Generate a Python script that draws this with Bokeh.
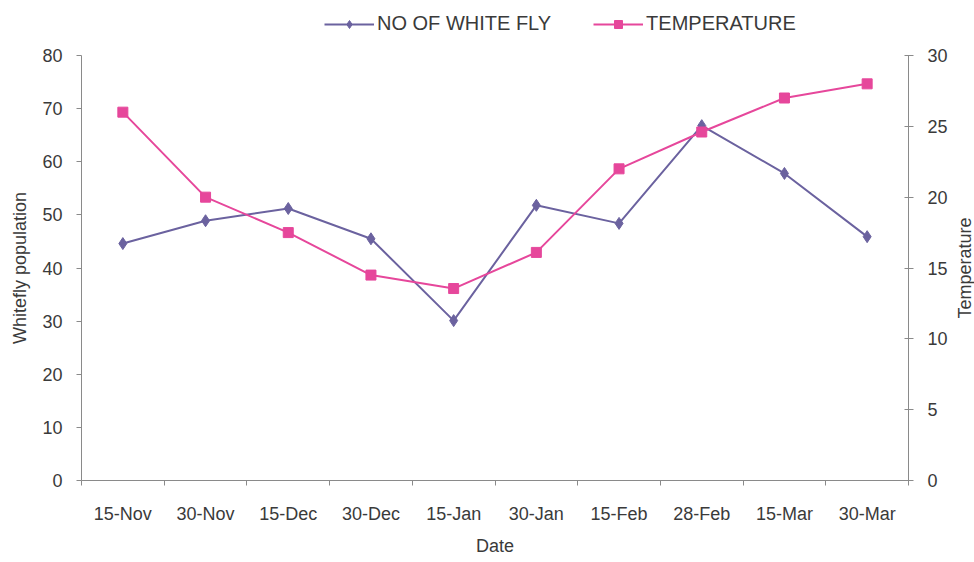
import math
from bokeh.plotting import figure
from bokeh.models import Range1d, LinearAxis, FixedTicker, Legend, LegendItem
from bokeh.layouts import column, row
from bokeh.core.properties import value
from bokeh.embed import file_html
from bokeh.resources import INLINE

dates = ["15-Nov", "30-Nov", "15-Dec", "30-Dec", "15-Jan", "30-Jan", "15-Feb", "28-Feb", "15-Mar", "30-Mar"]
whitefly = [44.6, 48.9, 51.2, 45.5, 30.1, 51.8, 48.4, 66.8, 57.8, 45.9]
temperature = [26.0, 20.0, 17.5, 14.5, 13.55, 16.1, 22.0, 24.6, 27.0, 28.0]
left_ticks = [0, 10, 20, 30, 40, 50, 60, 70, 80]
right_ticks = [0, 5, 10, 15, 20, 25, 30]
series_names = ["NO OF WHITE FLY", "TEMPERATURE"]
x_title = "Date"
left_title = "Whitefly population"
right_title = "Temperature"

xs = [i + 0.5 for i in range(len(dates))]
FONT = "Liberation Sans"
TXT = "#3a3a3a"
AX = "#8a8a8a"
WF_C = "#6b629f"
T_C = "#e6479b"
FS = "18px"


def bare(fig):
    fig.axis.visible = False
    fig.grid.visible = False
    fig.outline_line_color = None
    fig.background_fill_color = "white"
    fig.border_fill_color = "white"


# ---------- main chart ----------
yr = Range1d(0, 80)
p = figure(width=952, height=522, output_backend="svg", toolbar_location=None,
           x_range=Range1d(0, len(dates)), y_range=yr,
           min_border_left=81, min_border_right=44, min_border_top=15, min_border_bottom=82)
p.extra_y_ranges = {"temp": Range1d(0, 30)}
p.grid.visible = False
p.outline_line_color = None
p.background_fill_color = "white"
p.border_fill_color = "white"

xa = p.xaxis[0]
xa.ticker = FixedTicker(ticks=xs, minor_ticks=list(range(len(dates) + 1)))
xa.major_label_overrides = {x: d for x, d in zip(xs, dates)}
xa.major_tick_out = 0
xa.major_tick_in = 0
xa.minor_tick_out = 5
xa.minor_tick_in = 0
xa.minor_tick_line_color = AX
xa.axis_line_color = AX
xa.major_label_text_font = FONT
xa.major_label_text_font_size = FS
xa.major_label_text_color = TXT
xa.major_label_standoff = 18
xa.axis_label = x_title
xa.axis_label_text_font = FONT
xa.axis_label_text_font_size = FS
xa.axis_label_text_font_style = "normal"
xa.axis_label_text_color = TXT
xa.axis_label_standoff = 9

ya = p.yaxis[0]
ya.ticker = FixedTicker(ticks=left_ticks)
ya.minor_tick_line_color = None
ya.major_tick_out = 5
ya.major_tick_in = 0
ya.major_tick_line_color = AX
ya.axis_line_color = AX
ya.major_label_text_font = FONT
ya.major_label_text_font_size = FS
ya.major_label_text_color = TXT
ya.major_label_standoff = 14
ya.axis_label = left_title
ya.axis_label_text_font = FONT
ya.axis_label_text_font_size = FS
ya.axis_label_text_font_style = "normal"
ya.axis_label_text_color = TXT
ya.axis_label_standoff = 9

ra = LinearAxis(y_range_name="temp", ticker=FixedTicker(ticks=right_ticks))
ra.minor_tick_line_color = None
ra.major_tick_out = 5
ra.major_tick_in = 4
ra.major_tick_line_color = AX
ra.axis_line_color = AX
ra.major_label_text_font = FONT
ra.major_label_text_font_size = FS
ra.major_label_text_color = TXT
ra.major_label_standoff = 14
p.add_layout(ra, "right")

p.line(xs, whitefly, line_color=WF_C, line_width=2)
p.scatter(xs, whitefly, marker="diamond", size=12, fill_color=WF_C, line_color=WF_C)
p.line(xs, temperature, line_color=T_C, line_width=2, y_range_name="temp")
p.scatter(xs, temperature, marker="square", size=10, fill_color=T_C, line_color=T_C, y_range_name="temp")

# ---------- right axis title strip ----------
lab = figure(width=22, height=522, output_backend="svg", toolbar_location=None,
             x_range=Range1d(0, 1), y_range=yr,
             min_border_left=0, min_border_right=0, min_border_top=15, min_border_bottom=82)
bare(lab)
lab.text(x=[0.55], y=[(yr.start + yr.end) / 2], text=[right_title], angle=math.pi / 2,
         text_align="center", text_baseline="middle", text_font_size=FS,
         text_font=value(FONT), text_color=TXT)

# ---------- legend strip (same series, drawn outside its view so only the legend shows) ----------
top = figure(width=974, height=40, output_backend="svg", toolbar_location=None,
             x_range=Range1d(0, len(dates)), y_range=Range1d(1000, 1001),
             min_border_left=0, min_border_right=0, min_border_top=0, min_border_bottom=0)
bare(top)
lw = top.line(xs, whitefly, line_color=WF_C, line_width=2)
mw = top.scatter(xs, whitefly, marker="diamond", size=11, fill_color=WF_C, line_color=WF_C)
lt = top.line(xs, temperature, line_color=T_C, line_width=2)
mt = top.scatter(xs, temperature, marker="square", size=10, fill_color=T_C, line_color=T_C)
legend = Legend(items=[LegendItem(label=series_names[0], renderers=[lw, mw]),
                       LegendItem(label=series_names[1], renderers=[lt, mt])],
                orientation="horizontal", location=(324, 5),
                label_text_font=FONT, label_text_font_size="20px", label_text_color=TXT,
                glyph_width=50, label_standoff=3, spacing=42, border_line_color=None,
                background_fill_alpha=0, margin=0, padding=4)
top.add_layout(legend, "center")

layout = column(top, row(p, lab))
open("out.html", "w").write(file_html(layout, INLINE))
